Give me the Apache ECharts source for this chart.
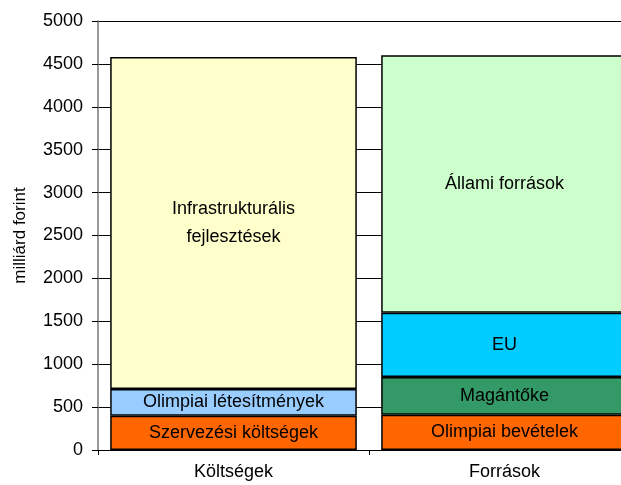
<!DOCTYPE html>
<html>
<head>
<meta charset="utf-8">
<script src="https://cdn.jsdelivr.net/npm/echarts@6/dist/echarts.min.js"></script>
<style>
html,body{margin:0;padding:0;background:#fff;}
#chart{width:621px;height:485px;}
</style>
</head>
<body>
<div id="chart"></div>
<script>
const categories = ['Költségek', 'Források'];
const szervezesiKoltsegek = [400, null];
const olimpiaiLetesitmenyek = [310, null];
const infrastrukturalis = [3870, null];
const olimpiaiBevetelek = [null, 410];
const magantoke = [null, 440];
const eu = [null, 750];
const allamiForrasok = [null, 3000];
const yTicks = { min: 0, max: 5000, interval: 500 };

const FONT = '"Liberation Sans", Arial, sans-serif';

function s(name, data, color, labelText) {
  return {
    name: name,
    type: 'bar',
    stack: 'total',
    data: data,
    barCategoryGap: '9%',
    itemStyle: { color: color, borderColor: '#000', borderWidth: 1.5 },
    label: {
      show: true,
      position: 'inside',
      formatter: labelText || '{a}',
      color: '#000',
      fontFamily: FONT,
      fontSize: 18,
      lineHeight: 28
    },
    emphasis: { disabled: true }
  };
}

const chart = echarts.init(document.getElementById('chart'), null, { renderer: 'canvas' });
chart.setOption({
  animation: false,
  backgroundColor: '#fff',
  grid: { left: 98, top: 21, width: 542, height: 429, outerBoundsMode: 'none', containLabel: false },
  xAxis: {
    type: 'category',
    data: categories,
    axisLine: { lineStyle: { color: '#000', width: 1 } },
    axisTick: { show: true, length: 5, lineStyle: { color: '#000' } },
    axisLabel: { color: '#000', fontFamily: FONT, fontSize: 18, margin: 13 }
  },
  yAxis: {
    type: 'value',
    min: yTicks.min,
    max: yTicks.max,
    interval: yTicks.interval,
    name: 'milliárd forint',
    nameLocation: 'middle',
    nameRotate: 90,
    nameGap: 69,
    nameTextStyle: { color: '#000', fontFamily: FONT, fontSize: 17 },
    axisLine: { show: true, lineStyle: { color: '#777', width: 1.5 } },
    axisTick: { show: true, length: 6, lineStyle: { color: '#000' } },
    axisLabel: { color: '#000', fontFamily: FONT, fontSize: 18, margin: 15, formatter: function (v) { return String(v); } },
    splitLine: { show: true, lineStyle: { color: '#000', width: 1 } }
  },
  series: [
    s('Szervezési költségek', szervezesiKoltsegek, '#FF6600'),
    s('Olimpiai létesítmények', olimpiaiLetesitmenyek, '#99CCFF'),
    s('Infrastrukturális fejlesztések', infrastrukturalis, '#FFFFCC', 'Infrastrukturális\nfejlesztések'),
    s('Olimpiai bevételek', olimpiaiBevetelek, '#FF6600'),
    s('Magántőke', magantoke, '#339966'),
    s('EU', eu, '#00CCFF'),
    s('Állami források', allamiForrasok, '#CCFFCC')
  ]
});
</script>
</body>
</html>
